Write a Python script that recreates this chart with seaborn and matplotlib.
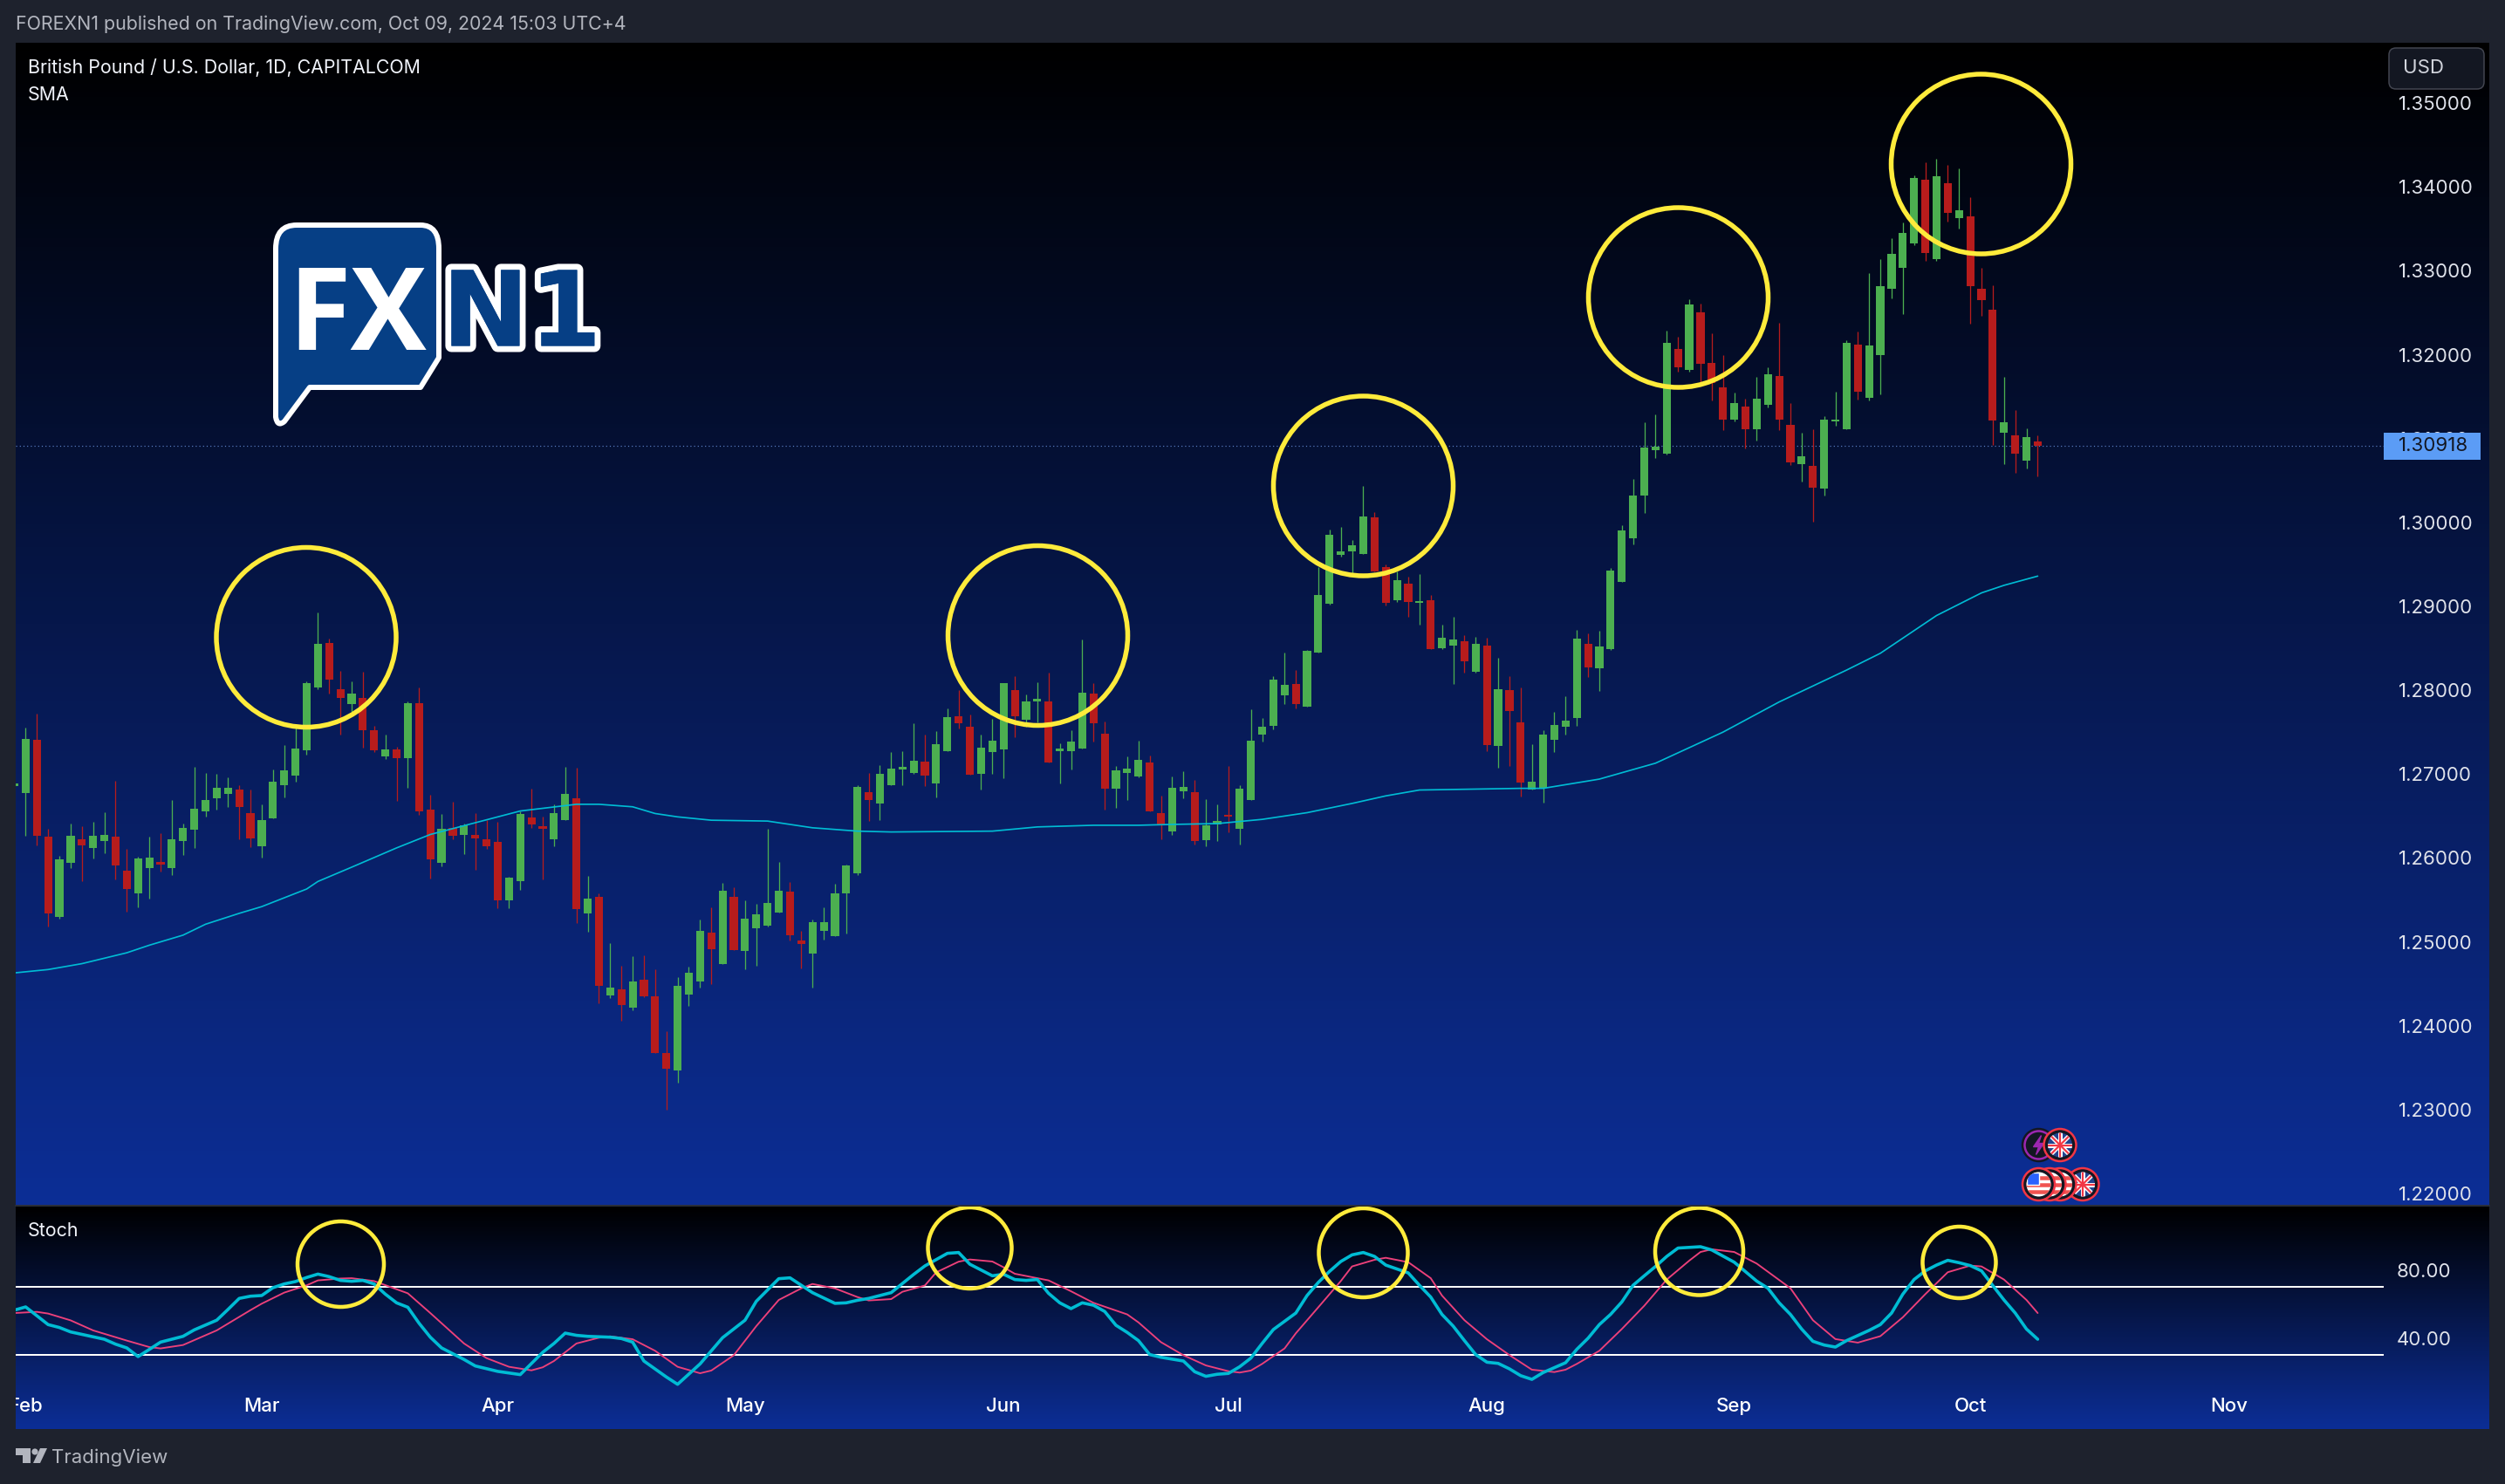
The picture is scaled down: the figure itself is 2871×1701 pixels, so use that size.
import numpy as np
import pandas as pd
import matplotlib
matplotlib.use("Agg")
import matplotlib.pyplot as plt
import matplotlib.patheffects as pe
from matplotlib.colors import LinearSegmentedColormap
from matplotlib.patches import Circle, Ellipse, FancyBboxPatch, PathPatch, Polygon, Rectangle
from matplotlib.path import Path
import seaborn as sns

# Daily GBP/USD candles, first one is the cut off stub at the left edge
opens = [1.2686,
    1.2677, 1.2741, 1.2625, 1.2530, 1.2594, 1.2622, 1.2612, 1.2620, 1.2625, 1.2585,
    1.2558, 1.2588, 1.2595, 1.2588, 1.2620, 1.2634, 1.2656, 1.2671, 1.2676, 1.2682,
    1.2654, 1.2614, 1.2647, 1.2687, 1.2698, 1.2728, 1.2803, 1.2856, 1.2801, 1.2784,
    1.2791, 1.2752, 1.2721, 1.2729, 1.2719, 1.2785, 1.2658, 1.2594, 1.2636, 1.2627,
    1.2628, 1.2622, 1.2619, 1.2550, 1.2572, 1.2648, 1.2636, 1.2622, 1.2645, 1.2671,
    1.2534, 1.2554, 1.2436, 1.2443, 1.2422, 1.2455, 1.2435, 1.2367, 1.2347, 1.2437,
    1.2453, 1.2511, 1.2474, 1.2554, 1.2489, 1.2516, 1.2519, 1.2535, 1.2560, 1.2502,
    1.2486, 1.2513, 1.2507, 1.2558, 1.2582, 1.2678, 1.2665, 1.2687, 1.2706, 1.2701,
    1.2715, 1.2689, 1.2727, 1.2769, 1.2756, 1.2700, 1.2726, 1.2729, 1.2800, 1.2765,
    1.2787, 1.2787, 1.2727, 1.2727, 1.2730, 1.2796, 1.2748, 1.2683, 1.2701, 1.2697,
    1.2714, 1.2654, 1.2632, 1.2679, 1.2678, 1.2621, 1.2640, 1.2650,
    1.2635, 1.2669, 1.2747, 1.2758, 1.2794, 1.2807, 1.2780, 1.2845, 1.2903, 1.2961,
    1.2966, 1.2962, 1.3006, 1.2947, 1.2907, 1.2927, 1.2904, 1.2907, 1.2850, 1.2853,
    1.2858, 1.2822, 1.2853, 1.2734, 1.2800, 1.2762, 1.2682, 1.2684, 1.2741, 1.2756,
    1.2767, 1.2855, 1.2826, 1.2849, 1.2929, 1.2981, 1.3032, 1.3086,
    1.3082, 1.3207, 1.3182, 1.3250, 1.3190, 1.3161, 1.3123, 1.3138, 1.3111, 1.3140,
    1.3175, 1.3116, 1.3070, 1.3067, 1.3040, 1.3120, 1.3111, 1.3212, 1.3149, 1.3200,
    1.3279, 1.3304, 1.3333, 1.3409, 1.3314, 1.3404, 1.3363, 1.3365, 1.3279, 1.3254,
    1.3107, 1.3104, 1.3074, 1.3097]
highs = [1.2687,
    1.2755, 1.2772, 1.2635, 1.2603, 1.2641, 1.2638, 1.2643, 1.2655, 1.2692, 1.2611,
    1.2602, 1.2625, 1.2630, 1.2669, 1.2641, 1.2709, 1.2701, 1.2700, 1.2696, 1.2687,
    1.2682, 1.2664, 1.2706, 1.2735, 1.2760, 1.2811, 1.2893, 1.2862, 1.2823, 1.2811,
    1.2822, 1.2758, 1.2747, 1.2733, 1.2787, 1.2803, 1.2675, 1.2652, 1.2667, 1.2641,
    1.2654, 1.2645, 1.2643, 1.2578, 1.2656, 1.2683, 1.2649, 1.2664, 1.2709, 1.2708,
    1.2579, 1.2558, 1.2499, 1.2472, 1.2483, 1.2484, 1.2467, 1.2393, 1.2458, 1.2470,
    1.2527, 1.2541, 1.2570, 1.2565, 1.2550, 1.2545, 1.2635, 1.2595, 1.2571, 1.2513,
    1.2527, 1.2541, 1.2569, 1.2592, 1.2687, 1.2701, 1.2711, 1.2726, 1.2727, 1.2761,
    1.2747, 1.2751, 1.2778, 1.2800, 1.2771, 1.2747, 1.2766, 1.2808, 1.2817, 1.2795,
    1.2809, 1.2821, 1.2737, 1.2752, 1.2860, 1.2808, 1.2763, 1.2710, 1.2721, 1.2740,
    1.2722, 1.2674, 1.2697, 1.2703, 1.2693, 1.2670, 1.2664, 1.2710,
    1.2687, 1.2777, 1.2767, 1.2817, 1.2845, 1.2824, 1.2848, 1.2947, 1.2991, 1.2995,
    1.2979, 1.3044, 1.3012, 1.2950, 1.2942, 1.2935, 1.2938, 1.2913, 1.2878, 1.2888,
    1.2866, 1.2864, 1.2863, 1.2839, 1.2817, 1.2803, 1.2736, 1.2752, 1.2774, 1.2793,
    1.2872, 1.2868, 1.2871, 1.2946, 1.2997, 1.3052, 1.3119, 1.3129,
    1.3229, 1.3221, 1.3266, 1.3261, 1.3226, 1.3199, 1.3155, 1.3148, 1.3174, 1.3185,
    1.3238, 1.3142, 1.3107, 1.3111, 1.3127, 1.3156, 1.3217, 1.3228, 1.3297, 1.3314,
    1.3339, 1.3358, 1.3414, 1.3429, 1.3433, 1.3426, 1.3422, 1.3388, 1.3304, 1.3283,
    1.3174, 1.3134, 1.3112, 1.3104]
lows = [1.2686,
    1.2626, 1.2615, 1.2518, 1.2528, 1.2588, 1.2572, 1.2599, 1.2606, 1.2574, 1.2536,
    1.2541, 1.2552, 1.2584, 1.2580, 1.2604, 1.2612, 1.2649, 1.2658, 1.2661, 1.2622,
    1.2613, 1.2600, 1.2647, 1.2672, 1.2691, 1.2723, 1.2801, 1.2796, 1.2747, 1.2774,
    1.2731, 1.2726, 1.2718, 1.2668, 1.2684, 1.2651, 1.2575, 1.2590, 1.2622, 1.2605,
    1.2586, 1.2611, 1.2540, 1.2540, 1.2562, 1.2636, 1.2574, 1.2614, 1.2645, 1.2522,
    1.2512, 1.2427, 1.2433, 1.2406, 1.2418, 1.2434, 1.2367, 1.2300, 1.2332, 1.2424,
    1.2445, 1.2450, 1.2474, 1.2490, 1.2467, 1.2472, 1.2518, 1.2535, 1.2502, 1.2468,
    1.2446, 1.2503, 1.2507, 1.2510, 1.2580, 1.2644, 1.2645, 1.2687, 1.2687, 1.2700,
    1.2686, 1.2672, 1.2727, 1.2754, 1.2699, 1.2682, 1.2700, 1.2695, 1.2744, 1.2756,
    1.2762, 1.2714, 1.2689, 1.2706, 1.2730, 1.2739, 1.2658, 1.2660, 1.2669, 1.2696,
    1.2656, 1.2622, 1.2628, 1.2671, 1.2616, 1.2614, 1.2620, 1.2631,
    1.2616, 1.2669, 1.2739, 1.2753, 1.2783, 1.2778, 1.2780, 1.2845, 1.2902, 1.2959,
    1.2939, 1.2962, 1.2942, 1.2901, 1.2905, 1.2888, 1.2878, 1.2849, 1.2849, 1.2807,
    1.2821, 1.2821, 1.2727, 1.2708, 1.2710, 1.2673, 1.2682, 1.2666, 1.2726, 1.2747,
    1.2758, 1.2816, 1.2799, 1.2848, 1.2929, 1.2974, 1.3011, 1.3077,
    1.3081, 1.3180, 1.3180, 1.3166, 1.3145, 1.3110, 1.3120, 1.3088, 1.3098, 1.3137,
    1.3110, 1.3068, 1.3049, 1.3001, 1.3032, 1.3115, 1.3111, 1.3146, 1.3145, 1.3153,
    1.3267, 1.3248, 1.3331, 1.3312, 1.3312, 1.3359, 1.3350, 1.3237, 1.3246, 1.3092,
    1.3070, 1.3059, 1.3064, 1.3055]
closes = [1.2687,
    1.2742, 1.2626, 1.2534, 1.2598, 1.2626, 1.2615, 1.2626, 1.2627, 1.2591, 1.2563,
    1.2599, 1.2600, 1.2592, 1.2622, 1.2636, 1.2659, 1.2669, 1.2684, 1.2684, 1.2661,
    1.2623, 1.2645, 1.2691, 1.2704, 1.2730, 1.2808, 1.2855, 1.2813, 1.2791, 1.2796,
    1.2752, 1.2728, 1.2729, 1.2719, 1.2785, 1.2656, 1.2598, 1.2635, 1.2626, 1.2639,
    1.2623, 1.2614, 1.2549, 1.2577, 1.2652, 1.2640, 1.2635, 1.2654, 1.2676, 1.2539,
    1.2552, 1.2448, 1.2445, 1.2425, 1.2453, 1.2435, 1.2368, 1.2349, 1.2448, 1.2463,
    1.2513, 1.2491, 1.2561, 1.2490, 1.2528, 1.2533, 1.2546, 1.2561, 1.2508, 1.2497,
    1.2524, 1.2524, 1.2558, 1.2591, 1.2685, 1.2669, 1.2700, 1.2707, 1.2709, 1.2716,
    1.2698, 1.2736, 1.2768, 1.2761, 1.2699, 1.2732, 1.2740, 1.2808, 1.2769, 1.2787,
    1.2790, 1.2714, 1.2730, 1.2739, 1.2797, 1.2761, 1.2683, 1.2704, 1.2707, 1.2717,
    1.2656, 1.2640, 1.2684, 1.2685, 1.2620, 1.2639, 1.2644, 1.2649,
    1.2683, 1.2740, 1.2756, 1.2813, 1.2806, 1.2784, 1.2847, 1.2914, 1.2985, 1.2966,
    1.2973, 1.3007, 1.2942, 1.2904, 1.2931, 1.2905, 1.2905, 1.2849, 1.2863, 1.2860,
    1.2834, 1.2855, 1.2735, 1.2801, 1.2775, 1.2690, 1.2691, 1.2747, 1.2759, 1.2764,
    1.2862, 1.2827, 1.2852, 1.2943, 1.2990, 1.3032, 1.3089, 1.3090,
    1.3214, 1.3185, 1.3260, 1.3189, 1.3166, 1.3123, 1.3142, 1.3111, 1.3148, 1.3177,
    1.3123, 1.3072, 1.3079, 1.3041, 1.3123, 1.3121, 1.3214, 1.3156, 1.3211, 1.3282,
    1.3320, 1.3345, 1.3411, 1.3321, 1.3413, 1.3369, 1.3372, 1.3282, 1.3265, 1.3122,
    1.3119, 1.3082, 1.3102, 1.30918]

sma_pos = [-1, 2, 5, 9, 11, 14, 16, 19, 21, 25, 26, 29, 33, 36, 40, 44, 49, 51, 54, 56,
    58, 61, 66, 70, 74, 77, 86, 90, 95, 99, 102, 106, 110, 114, 118, 121, 124, 133, 135,
    140, 145, 151, 156, 162, 165, 170, 174, 176, 179]
sma_vals = [1.2463, 1.2467, 1.2474, 1.2487, 1.2496, 1.2508, 1.2521, 1.2534, 1.2542, 1.2563,
    1.2572, 1.2589, 1.2612, 1.2628, 1.2642, 1.2656, 1.2664, 1.2664, 1.2661, 1.2653,
    1.2649, 1.2645, 1.2644, 1.2636, 1.2632, 1.2631, 1.2632, 1.2637, 1.2639, 1.2639,
    1.2640, 1.2641, 1.2646, 1.2654, 1.2665, 1.2674, 1.2681, 1.2683, 1.2683,
    1.2694, 1.2713, 1.2750, 1.2786, 1.2824, 1.2844, 1.2889, 1.2916, 1.2925, 1.2936]

stoch_k_pos = [-1, 0, 2, 3, 4, 7, 8, 9, 10, 11, 12, 14, 15, 17, 18, 19, 20, 21, 22, 23, 24,
    25, 26, 27, 28, 29, 30, 31, 32, 33, 34, 35, 36, 37, 39, 40, 42, 44, 46, 47, 48, 49, 50,
    52, 53, 54, 55, 57, 58, 60, 62, 64, 65, 67, 68, 70, 72, 73, 74, 75, 77, 79, 80, 82, 83,
    84, 86, 87, 88, 89, 90, 91, 92, 93, 94, 95, 96, 97, 98, 99, 100, 101, 103, 104, 105,
    106, 107, 108, 109, 110, 111, 113, 114, 115, 116, 117, 118, 119, 120, 121, 123, 124,
    125, 126, 127, 128, 129, 130, 131, 132, 133, 134, 135, 137, 138, 139, 140, 141, 142,
    143, 144, 145, 146, 147, 149, 150, 152, 154, 155, 156, 157, 158, 159, 160, 161, 162,
    164, 165, 166, 167, 168, 169, 170, 171, 172, 173, 174, 175, 176, 177, 178, 179]
stoch_k_vals = [56.4, 58.3, 47.9, 46.2, 43.6, 39.3, 36.4, 34.2, 29.1, 33.3, 37.6, 41.0, 44.8,
    50.5, 56.8, 63.3, 64.6, 65.0, 69.6, 71.8, 73.2, 75.6, 77.6, 76.1, 73.9, 73.4, 73.9, 71.8,
    65.8, 60.7, 58.1, 48.7, 40.5, 34.2, 27.4, 23.6, 20.4, 18.5, 31.6, 36.8, 42.9, 41.6, 41.0,
    40.5, 39.7, 37.6, 26.5, 17.1, 12.8, 24.8, 40.2, 50.5, 61.6, 74.9, 75.4, 66.7, 60.4, 60.7,
    62.2, 63.3, 66.7, 77.4, 82.4, 89.8, 90.3, 83.4, 76.6, 77.5, 74.4, 73.9, 74.4, 66.3, 60.7,
    57.3, 60.7, 59.3, 55.6, 47.5, 43.3, 38.5, 30.3, 28.7, 26.5, 20.2, 17.5, 18.7, 19.2, 23.1,
    28.2, 36.8, 45.0, 54.7, 65.0, 72.7, 79.2, 85.0, 88.9, 90.3, 88.0, 82.9, 78.3, 71.0, 64.1,
    53.9, 47.0, 38.5, 30.3, 25.8, 25.1, 21.9, 17.9, 15.7, 19.7, 25.5, 33.4, 39.9, 47.9, 53.9,
    61.2, 71.0, 76.6, 82.1, 88.0, 92.9, 93.7, 91.8, 84.6, 73.5, 69.3, 60.7, 53.9, 45.3, 38.1,
    35.9, 34.7, 38.5, 44.5, 47.9, 54.7, 65.8, 74.4, 79.5, 82.9, 85.7, 84.3, 82.6, 79.5, 70.9,
    62.4, 54.7, 45.3, 39.3]

stoch_d_pos = [-1, 1, 2, 4, 6, 9, 11, 12, 14, 17, 20, 21, 23, 25, 26, 28, 29, 31, 34, 36, 39,
    41, 43, 45, 46, 47, 49, 51, 52, 54, 56, 58, 60, 61, 63, 65, 67, 69, 70, 72, 74, 75, 77,
    78, 80, 81, 83, 84, 86, 87, 88, 91, 93, 95, 98, 99, 101, 103, 105, 107, 108, 109, 110,
    112, 113, 115, 117, 118, 120, 121, 123, 125, 126, 128, 130, 132, 134, 136, 137, 138,
    140, 142, 144, 146, 148, 149, 150, 152, 154, 157, 159, 161, 163, 165, 167, 169, 171,
    173, 174, 176, 178, 179]
stoch_d_vals = [54.7, 55.4, 54.4, 50.4, 44.5, 38.5, 34.7, 33.9, 35.9, 44.5, 56.4, 60.2, 66.7,
    71.0, 73.9, 75.0, 75.2, 73.5, 66.3, 54.7, 36.8, 28.2, 23.1, 21.0, 22.8, 26.5, 36.8, 40.2,
    41.0, 39.3, 32.5, 23.1, 19.3, 20.9, 29.9, 47.0, 62.4, 69.2, 71.8, 69.2, 64.1, 62.1, 62.9,
    67.2, 70.9, 78.6, 84.9, 86.2, 85.0, 81.6, 77.8, 73.9, 67.5, 60.7, 53.9, 49.2, 37.6, 29.9,
    23.9, 20.5, 19.7, 20.9, 24.8, 33.9, 42.8, 58.1, 73.5, 82.1, 86.0, 87.2, 84.6, 75.2, 65.0,
    50.5, 39.3, 30.0, 21.4, 20.0, 21.4, 24.8, 32.5, 45.3, 59.0, 74.4, 85.5, 90.6, 92.2, 90.6,
    83.8, 69.3, 50.5, 39.4, 37.3, 41.1, 52.2, 65.8, 78.7, 82.6, 82.1, 74.4, 62.4, 54.7]

price_ticks = [1.22, 1.23, 1.24, 1.25, 1.26, 1.27, 1.28, 1.29, 1.30, 1.31, 1.32, 1.33, 1.34, 1.35]
stoch_ticks = [40, 80]
stoch_bands = [30, 70]
month_labels = ["Feb", "Mar", "Apr", "May", "Jun", "Jul", "Aug", "Sep", "Oct", "Nov"]
month_pos = [0, 21, 42, 64, 87, 107, 130, 152, 173, 196]
last_price = 1.30918

W, H = 2871, 1701
DARK = "#1e222d"
GREEN = "#4caf50"
RED = "#b71c1c"
CYAN = "#00bcd4"
PINK = "#ec407a"
YELLOW = "#ffeb3b"
LOGO_BLUE = "#063f85"
PX = 0.72  # one pixel in points at dpi 100

sns.set_theme(style="dark")
plt.rcParams["font.family"] = ["Inter", "DejaVu Sans"]

fig = plt.figure(figsize=(W / 100, H / 100), dpi=100, facecolor=DARK)
gradient = LinearSegmentedColormap.from_list("tv_bg", ["#000000", "#0c2e96"])


#Axes placed by pixel box, y counted from the top like the screenshot
def pixel_axes(left, top, right, bottom):
    return fig.add_axes([left / W, 1 - bottom / H, (right - left) / W, (bottom - top) / H])


def add_background(top, bottom):
    bg = pixel_axes(18.4, top, 2852.7, bottom)
    bg.imshow(np.linspace(0, 1, 256).reshape(-1, 1), cmap=gradient, aspect="auto")
    bg.axis("off")


add_background(49, 1381)
add_background(1383, 1638)

#Price panel
ax = pixel_axes(18.4, 49, 2731.7, 1381.7)
ax.patch.set_visible(False)
candles = pd.DataFrame({"open": opens, "high": highs, "low": lows, "close": closes})
candles["pos"] = np.arange(-1, len(candles) - 1)
candles["color"] = np.where(candles["close"] >= candles["open"], GREEN, RED)

ax.vlines(candles["pos"], candles["low"], candles["high"], colors=candles["color"], linewidth=1.3 * PX, zorder=2)
ax.bar(candles["pos"], (candles["close"] - candles["open"]).abs().clip(lower=0.00025),
       bottom=candles[["open", "close"]].min(axis=1), width=0.71, color=candles["color"], linewidth=0, zorder=3)
sns.lineplot(x=sma_pos, y=sma_vals, ax=ax, color=CYAN, linewidth=1.7 * PX, errorbar=None, zorder=4)
ax.axhline(last_price, color="#5a7fc4", linewidth=1.2 * PX, linestyle=(0, (1, 2.5)), zorder=1)

ax.set_xlim(-0.854, 209.76)
ax.set_ylim(1.21858, 1.35718)
ax.set_xticks([])
ax.yaxis.tick_right()
ax.set_yticks(price_ticks)
ax.set_yticklabels([f"{t:.5f}" for t in price_ticks], fontsize=16, color="#dfe2ea")
ax.tick_params(axis="y", length=0, pad=12.5)
ax.set_xlabel("")
ax.set_ylabel("")
sns.despine(ax=ax, left=True, bottom=True, right=True, top=True)

#Stochastic panel
ax2 = pixel_axes(18.4, 1383, 2731.7, 1638)
ax2.patch.set_visible(False)
for band in stoch_bands:
    ax2.axhline(band, color="white", linewidth=2 * PX, zorder=1)
sns.lineplot(x=stoch_d_pos, y=stoch_d_vals, ax=ax2, color=PINK, linewidth=1.9 * PX, errorbar=None, zorder=2)
sns.lineplot(x=stoch_k_pos, y=stoch_k_vals, ax=ax2, color=CYAN, linewidth=3.6 * PX, errorbar=None, zorder=3)
ax2.set_xlim(-0.854, 209.76)
ax2.set_ylim(-13.5, 117.3)
ax2.yaxis.tick_right()
ax2.set_yticks(stoch_ticks)
ax2.set_yticklabels([f"{t:.2f}" for t in stoch_ticks], fontsize=16, color="#dfe2ea")
ax2.set_xticks(month_pos)
ax2.set_xticklabels(month_labels, fontsize=16, color="white", fontweight="medium")
ax2.tick_params(axis="y", length=0, pad=11)
ax2.tick_params(axis="x", length=0, pad=-26)
ax2.set_xlabel("")
ax2.set_ylabel("")
for lab in ax2.get_xticklabels():
    lab.set_clip_on(True)
    lab.set_clip_box(ax2.bbox)
sns.despine(ax=ax2, left=True, bottom=True, right=True, top=True)

#Everything drawn on top of the screenshot sits in one overlay in pixel coordinates
top = fig.add_axes([0, 0, 1, 1], zorder=10)
top.set_xlim(0, W)
top.set_ylim(H, 0)
top.axis("off")
top.patch.set_visible(False)

top.plot([18, 2853], [1382, 1382], color="#2a2e39", linewidth=2 * PX)

top.text(18, 28, "FOREXN1 published on TradingView.com, Oct 09, 2024 15:03 UTC+4", fontsize=15.4,
         color="#b2b5be", va="center")
top.text(32, 78, "British Pound / U.S. Dollar, 1D, CAPITALCOM", fontsize=15.4, color="#f0f3fa", va="center")
top.text(32, 109, "SMA", fontsize=15.4, color="#f0f3fa", va="center")
top.text(32, 1411, "Stoch", fontsize=15.4, color="#f0f3fa", va="center")

# last price tag and currency button
top.add_patch(Rectangle((2732, 495.5), 111, 31, color="#5b9cf6", linewidth=0))
top.text(2749, 511, f"{last_price:.5f}", fontsize=16, color="#131722", va="center")
top.add_patch(FancyBboxPatch((2742, 59), 101, 39, boxstyle="round,pad=4,rounding_size=8",
                             facecolor="#131722", edgecolor="#434651", linewidth=1.5 * PX))
top.text(2754, 78.5, "USD", fontsize=16, color="#d1d4dc", va="center")

# yellow marker circles
main_circles = [(351, 730.5), (1189.5, 728.5), (1562.5, 557), (1923.5, 341), (2270.5, 188)]
stoch_circles = [(390.5, 1449, 49.5, 49), (1111.5, 1430.5, 48, 46.5), (1562.5, 1436, 51, 51),
                 (1947.5, 1434.5, 50.5, 50), (2245.5, 1447, 42, 41)]
for cx, cy in main_circles:
    top.add_patch(Circle((cx, cy), 103, fill=False, edgecolor=YELLOW, linewidth=5.5 * PX))
for cx, cy, rx, ry in stoch_circles:
    top.add_patch(Ellipse((cx, cy), rx * 2, ry * 2, fill=False, edgecolor=YELLOW, linewidth=4.5 * PX))

# FXN1 logo
bubble = Path([(340, 258), (482, 258), (503, 258), (503, 285), (503, 410), (482, 444), (355, 444),
               (326, 483), (318, 490), (316, 478), (316, 285), (316, 258), (340, 258), (340, 258)],
              [Path.MOVETO, Path.LINETO, Path.CURVE3, Path.CURVE3, Path.LINETO, Path.LINETO, Path.LINETO,
               Path.LINETO, Path.CURVE3, Path.CURVE3, Path.LINETO, Path.CURVE3, Path.CURVE3, Path.CLOSEPOLY])
top.add_patch(PathPatch(bubble, facecolor=LOGO_BLUE, edgecolor="white", linewidth=6 * PX, joinstyle="round"))
top.text(410, 351, "FX", fontsize=94, fontweight="bold", color="white", family=["Open Sans", "DejaVu Sans"],
         ha="center", va="center_baseline")
top.text(598, 351, "N1", fontsize=86, fontweight="bold", color=LOGO_BLUE, family=["DejaVu Sans"],
         ha="center", va="center_baseline",
         path_effects=[pe.withStroke(linewidth=14 * PX, foreground="white"), pe.Normal()])


# economic event badges, drawn right to left so the leftmost one lies on top
def badge(cx, cy, kind, base):
    edge = "#f23645" if kind != "bolt" else "#131722"
    top.add_patch(Circle((cx, cy), 18.5, facecolor="#131722", edgecolor=edge, linewidth=2.5 * PX, zorder=base))
    inner = Circle((cx, cy), 14, transform=top.transData)
    if kind == "uk":
        top.add_patch(Circle((cx, cy), 14, facecolor="#21438f", edgecolor="none", zorder=base + 0.1))
        for (x0, y0, x1, y1) in [(-14, -14, 14, 14), (-14, 14, 14, -14), (0, -14, 0, 14), (-14, 0, 14, 0)]:
            ln1, = top.plot([cx + x0, cx + x1], [cy + y0, cy + y1], color="white", linewidth=5 * PX, zorder=base + 0.2)
            ln2, = top.plot([cx + x0, cx + x1], [cy + y0, cy + y1], color="#f23645", linewidth=2.2 * PX, zorder=base + 0.3)
            ln1.set_clip_path(inner)
            ln2.set_clip_path(inner)
    elif kind == "us":
        top.add_patch(Circle((cx, cy), 14, facecolor="white", edgecolor="none", zorder=base + 0.1))
        for dy in (-8, 0, 8):
            ln, = top.plot([cx - 14, cx + 14], [cy + dy, cy + dy], color="#f05350", linewidth=4.5 * PX, zorder=base + 0.2)
            ln.set_clip_path(inner)
        canton = Rectangle((cx - 14, cy - 14), 14, 14, facecolor="#2962ff", zorder=base + 0.3)
        top.add_patch(canton)
        canton.set_clip_path(inner)
    else:
        top.add_patch(Circle((cx, cy), 16, fill=False, edgecolor="#9c27b0", linewidth=2.5 * PX, zorder=base + 0.1))
        top.add_patch(Polygon([(cx + 3, cy - 11), (cx - 6, cy + 2), (cx, cy + 2), (cx - 3, cy + 11),
                               (cx + 6, cy - 2), (cx, cy - 2)], color="#9c27b0", zorder=base + 0.2))


badge(2336.5, 1312.5, "bolt", 5)
badge(2361, 1312.5, "uk", 6)
badge(2387, 1357.5, "uk", 5)
badge(2361, 1357.5, "us", 6)
badge(2349, 1357.5, "us", 7)
badge(2336.5, 1357.5, "us", 8)

# TradingView footer mark
top.add_patch(Polygon([(18, 1660), (35, 1660), (35, 1677), (26, 1677), (26, 1668), (18, 1668)], color="#b2b5be", linewidth=0))
top.add_patch(Circle((40, 1664), 3.6, color="#b2b5be", linewidth=0))
top.add_patch(Polygon([(46, 1660), (54, 1660), (46, 1677), (38, 1677)], color="#b2b5be", linewidth=0))
top.text(59, 1671, "TradingView", fontsize=16, color="#b2b5be", va="center")

fig.savefig("out.png", dpi=100, facecolor=DARK)
